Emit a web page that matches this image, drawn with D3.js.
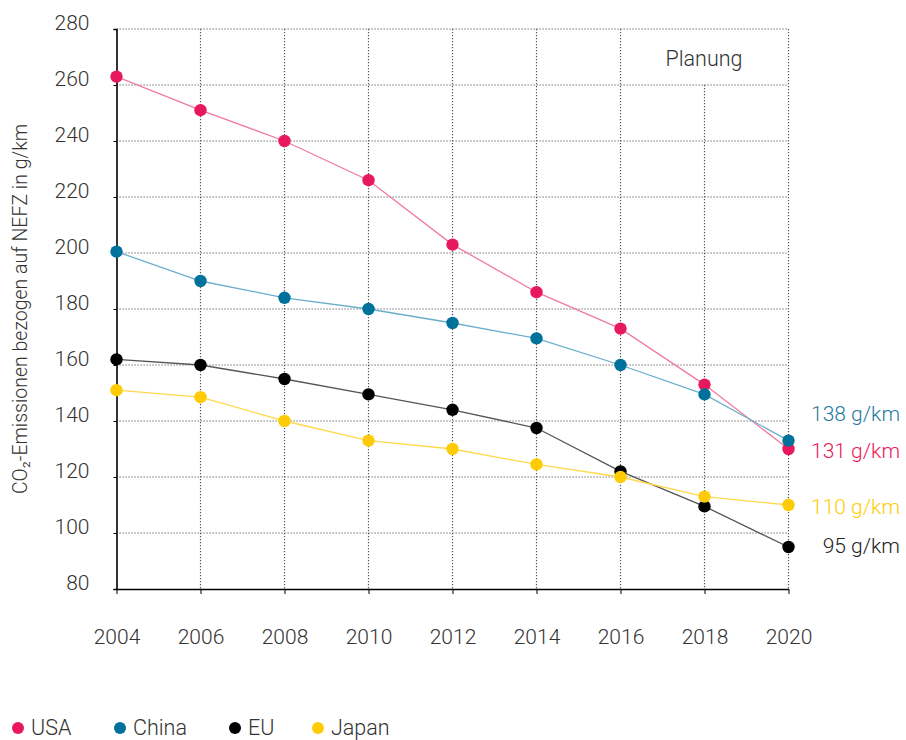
<!DOCTYPE html>
<html><head><meta charset="utf-8">
<script src="https://cdn.jsdelivr.net/npm/d3@7"></script>
<style>
html,body{margin:0;padding:0;background:#fff;}
text{font-family:"Helvetica Neue",Roboto,"Liberation Sans",Arial,sans-serif;font-weight:300;}
</style></head>
<body><svg id="c" width="906" height="740"></svg>
<script>
const years = [2004, 2006, 2008, 2010, 2012, 2014, 2016, 2018, 2020];
const usa   = [263, 251, 240, 226, 203, 186, 173, 153, 130];
const china = [200.5, 190, 184, 180, 175, 169.5, 160, 149.5, 133];
const eu    = [162, 160, 155, 149.5, 144, 137.5, 122, 109.5, 95];
const japan = [151, 148.5, 140, 133, 130, 124.5, 120, 113, 110];
const seriesNames = ["USA", "China", "EU", "Japan"];
const endLabels = ["131 g/km", "138 g/km", "95 g/km", "110 g/km"];
const yTicks = [80, 100, 120, 140, 160, 180, 200, 220, 240, 260, 280];
const yTitle = "CO₂-Emissionen bezogen auf NEFZ in g/km";
const planText = "Planung";

const dotColors  = ["#e8185c", "#00719a", "#000000", "#ffcb05"];
const lineColors = ["#f07aa0", "#6aaecb", "#555555", "#ffd84a"];
const labelColors = ["#e8185c", "#1f7a9e", "#222222", "#ffcb05"];
const labelY = [129.3, 142.5, 95.4, 109.3];

const svg = d3.select("#c");
const x = d3.scaleLinear().domain([2004, 2020]).range([116.5, 788.5]);
const y = d3.scaleLinear().domain([80, 280]).range([589, 29]);

const grid = svg.append("g").attr("stroke", "#555").attr("stroke-width", 1.2).attr("stroke-dasharray", "1.2,1.8");
grid.selectAll("line.h").data(yTicks.filter(d => d > 80)).enter().append("line")
  .attr("x1", x(2004)).attr("x2", x(2020)).attr("y1", d => y(d)).attr("y2", d => y(d));
grid.selectAll("line.v").data(years.filter(d => d > 2004)).enter().append("line")
  .attr("x1", d => x(d)).attr("x2", d => x(d))
  .attr("y1", d => d === 2018 ? y(260) : y(280)).attr("y2", y(80));

const yAxis = d3.axisLeft(y).tickValues(yTicks).tickSize(3).tickFormat(d3.format("d"));
const yg = svg.append("g").attr("transform", `translate(${x(2004)},0)`).call(yAxis);
yg.select(".domain").attr("stroke", "#000").attr("stroke-width", 1.6);
yg.selectAll(".tick line").attr("stroke", "#000");
yg.selectAll(".tick text").attr("x", -27).attr("dy", 0).attr("font-size", 21).style("fill", "#333");

const xAxis = d3.axisBottom(x).tickValues(years).tickSize(5).tickSizeOuter(0).tickFormat(d3.format("d"));
const xg = svg.append("g").attr("transform", `translate(0,${y(80)})`).call(xAxis);
xg.select(".domain").attr("stroke", "#000").attr("stroke-width", 1.6);
xg.selectAll(".tick line").attr("stroke", "#000");
xg.selectAll(".tick text").attr("y", 48).attr("dy", "0.35em").attr("font-size", 21).style("fill", "#333");
svg.selectAll("g").attr("font-family", null);

svg.append("text").attr("transform", `translate(27,${y(180)}) rotate(-90)`)
  .attr("text-anchor", "middle").attr("font-size", 19.5).style("fill", "#333").text(yTitle);

svg.append("text").attr("x", 704).attr("y", 58).attr("dy", "0.35em").attr("text-anchor", "middle")
  .attr("font-size", 21.5).style("fill", "#333").text(planText);

const data = [usa, china, eu, japan];
const line = d3.line().x((d, i) => x(years[i])).y(d => y(d));
data.forEach((vals, s) => {
  svg.append("path").datum(vals).attr("d", line).attr("fill", "none")
    .attr("stroke", lineColors[s]).attr("stroke-width", 1.3);
});
data.forEach((vals, s) => {
  svg.append("g").selectAll("circle").data(vals).enter().append("circle")
    .attr("cx", (d, i) => x(years[i])).attr("cy", d => y(d)).attr("r", 6.2)
    .attr("fill", dotColors[s]);
});

seriesNames.forEach((n, s) => {
  svg.append("text").attr("x", 900).attr("y", y(labelY[s])).attr("dy", "0.35em")
    .attr("text-anchor", "end").attr("font-size", 21).style("fill", labelColors[s]).text(endLabels[s]);
});

const legX = [18, 120, 235, 318];
seriesNames.forEach((n, s) => {
  svg.append("circle").attr("cx", legX[s]).attr("cy", 728).attr("r", 6).attr("fill", dotColors[s]);
  svg.append("text").attr("x", legX[s] + 13).attr("y", 727).attr("dy", "0.35em")
    .attr("font-size", 21.5).style("fill", "#333").text(n);
});
</script></body></html>
